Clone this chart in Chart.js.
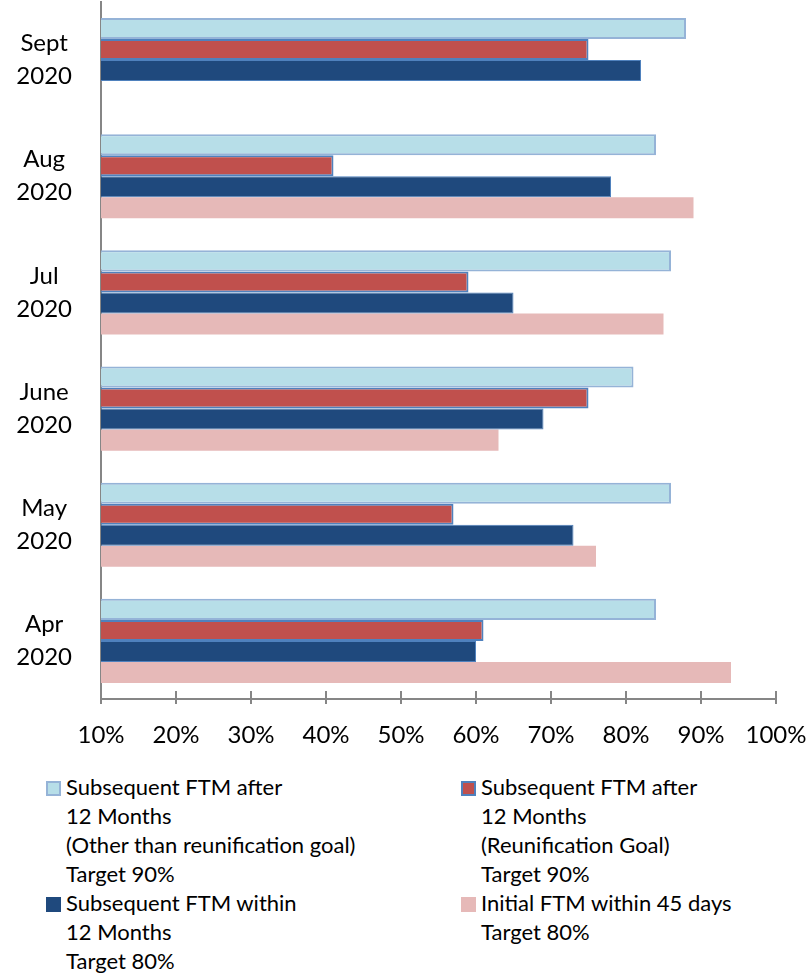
<!DOCTYPE html>
<html>
<head>
<meta charset="utf-8">
<script src="https://cdn.jsdelivr.net/npm/chart.js@4"></script>
<style>
  body { margin: 0; background: #fff; font-family: Lato, sans-serif; }
  #wrap { position: relative; width: 808px; height: 978px; }
  #myChart { position: absolute; left: 0; top: 0; }
  .legend { position: absolute; top: 772px; font-size: 22px; line-height: 29px; color: #000; }
  .item { position: relative; padding-left: 20px; }
  .box { position: absolute; left: 0; top: 9px; width: 15px; height: 15px; box-sizing: border-box; }
</style>
</head>
<body>
<div id="wrap">
  <canvas id="myChart" width="808" height="760"></canvas>
  <div class="legend" style="left:46px">
    <div class="item"><span class="box" style="background:#B7DEE8;border:2px solid #95B3D7"></span>Subsequent FTM after<br>12 Months<br>(Other than reunification goal)<br>Target 90%</div>
    <div class="item"><span class="box" style="background:#1F497D"></span>Subsequent FTM within<br>12 Months<br>Target 80%</div>
  </div>
  <div class="legend" style="left:461px">
    <div class="item"><span class="box" style="background:#C0504D;border:2px solid #4F81BD"></span>Subsequent FTM after<br>12 Months<br>(Reunification Goal)<br>Target 90%</div>
    <div class="item"><span class="box" style="background:#E6B9B8"></span>Initial FTM within 45 days<br>Target 80%</div>
  </div>
</div>
<script>
const months = [["Sept", "2020"], ["Aug", "2020"], ["Jul", "2020"], ["June", "2020"], ["May", "2020"], ["Apr", "2020"]];
const afterOther = [88, 84, 86, 81, 86, 84];   // after 12 months, other than reunification
const afterReunif = [75, 41, 59, 75, 57, 61];  // after 12 months, reunification goal
const within12 = [82, 78, 65, 69, 73, 60];     // within 12 months
const initial45 = [null, 89, 85, 63, 76, 94];  // initial FTM within 45 days
const xTicks = [10, 20, 30, 40, 50, 60, 70, 80, 90, 100];

const axisGrey = "#868686";

// tick marks that cross the x axis line (up into the plot a bit)
const crossTicks = {
  id: "crossTicks",
  afterDraw(chart) {
    const ctx = chart.ctx;
    const x = chart.scales.x;
    const bottom = chart.chartArea.bottom;
    ctx.save();
    ctx.strokeStyle = axisGrey;
    ctx.lineWidth = 2;
    xTicks.forEach((v) => {
      const px = Math.round(x.getPixelForValue(v));
      ctx.beginPath();
      ctx.moveTo(px, bottom - 8);
      ctx.lineTo(px, bottom + 5);
      ctx.stroke();
    });
    ctx.restore();
  },
};

const ctx = document.getElementById("myChart");

new Chart(ctx, {
  type: "bar",
  data: {
    labels: months,
    datasets: [
      { label: "Subsequent FTM after 12 Months (Other than reunification goal) Target 90%", data: afterOther, backgroundColor: "#B7DEE8", borderColor: "#95B3D7", borderWidth: 2 },
      { label: "Subsequent FTM after 12 Months (Reunification Goal) Target 90%", data: afterReunif, backgroundColor: "#C0504D", borderColor: "#4F81BD", borderWidth: 2 },
      { label: "Subsequent FTM within 12 Months Target 80%", data: within12, backgroundColor: "#1F497D", borderColor: "#4F81BD", borderWidth: 1 },
      { label: "Initial FTM within 45 days Target 80%", data: initial45, backgroundColor: "#E6B9B8", borderWidth: 0 },
    ],
  },
  options: {
    indexAxis: "y",
    responsive: false,
    animation: false,
    devicePixelRatio: 1,
    layout: { padding: { top: 2, right: 32, bottom: 0, left: 0 } },
    datasets: { bar: { categoryPercentage: 0.724, barPercentage: 1 } },
    plugins: { legend: { display: false }, tooltip: { enabled: false } },
    scales: {
      x: {
        min: 10,
        max: 100,
        afterFit: (s) => {
          s.height = 61;
          s.paddingLeft = 0;
          s.paddingRight = 0;
        },
        afterBuildTicks: (s) => { s.ticks = xTicks.map((v) => ({ value: v })); },
        grid: { display: false, drawTicks: false },
        border: { display: true, color: axisGrey, width: 2 },
        ticks: {
          padding: 22,
          color: "#000",
          font: { family: "Lato", size: 24 },
          callback: (v) => v + "%",
        },
      },
      y: {
        afterFit: (s) => {
          s.width = 101;
          s.paddingTop = 0;
          s.paddingBottom = 0;
        },
        grid: { display: false, drawTicks: false },
        border: { display: true, color: axisGrey, width: 2 },
        ticks: {
          padding: 29,
          crossAlign: "center",
          color: "#000",
          font: { family: "Lato", size: 24, lineHeight: 1.375 },
        },
      },
    },
  },
  plugins: [crossTicks],
});
</script>
</body>
</html>
